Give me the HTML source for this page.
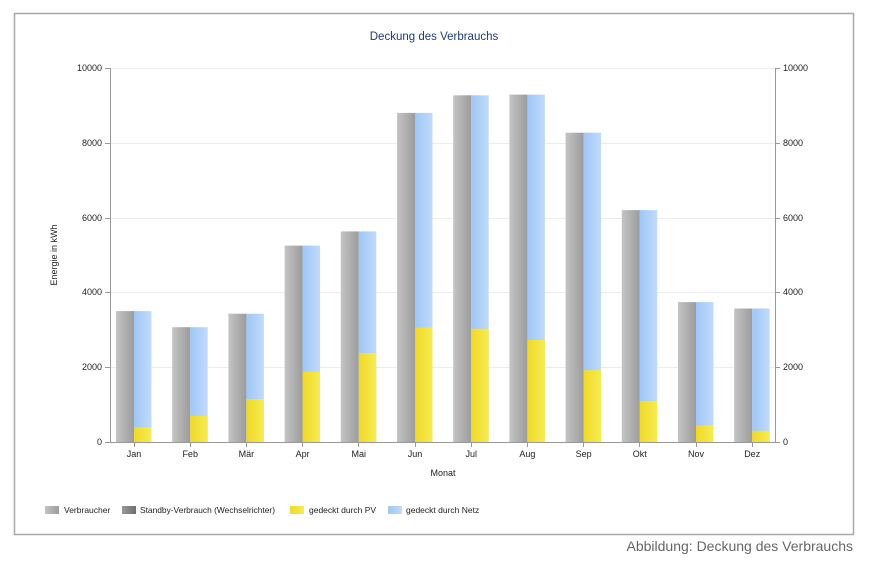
<!DOCTYPE html>
<html><head><meta charset="utf-8"><style>
body{margin:0;background:#fff;}
svg{display:block;font-family:"Liberation Sans",sans-serif;}
</style></head><body>
<svg width="872" height="576" viewBox="0 0 872 576">
<defs>
<linearGradient id="g" x1="0" x2="1"><stop offset="0" stop-color="#c4c4c4"/><stop offset="1" stop-color="#9c9c9c"/></linearGradient>
<linearGradient id="g2" x1="0" x2="1"><stop offset="0" stop-color="#999"/><stop offset="1" stop-color="#6e6e6e"/></linearGradient>
<linearGradient id="b" x1="0" x2="1"><stop offset="0" stop-color="#9fc6f6"/><stop offset="1" stop-color="#c1dbfb"/></linearGradient>
<linearGradient id="y" x1="0" x2="1"><stop offset="0" stop-color="#efd82a"/><stop offset="1" stop-color="#f7ec50"/></linearGradient>
</defs>
<rect x="14.5" y="13.5" width="839" height="521" fill="#fff" stroke="#a8a8a8" stroke-width="1.5"/>
<text x="434" y="40" text-anchor="middle" font-size="11.5" fill="#1f3a7a">Deckung des Verbrauchs</text>
<g stroke="#ececec" stroke-width="1">
<line x1="110" x2="775" y1="68.5" y2="68.5"/><line x1="110" x2="775" y1="143.5" y2="143.5"/>
<line x1="110" x2="775" y1="218.5" y2="218.5"/><line x1="110" x2="775" y1="292.5" y2="292.5"/>
<line x1="110" x2="775" y1="367.5" y2="367.5"/>
</g>
<g stroke="#999" stroke-width="1">
<line x1="110.5" x2="110.5" y1="68" y2="442"/><line x1="775.5" x2="775.5" y1="68" y2="442"/>
<line x1="110" x2="775" y1="442.5" y2="442.5"/>
<line x1="105" x2="110" y1="68.5" y2="68.5"/><line x1="105" x2="110" y1="143.5" y2="143.5"/><line x1="105" x2="110" y1="218.5" y2="218.5"/><line x1="105" x2="110" y1="292.5" y2="292.5"/><line x1="105" x2="110" y1="367.5" y2="367.5"/><line x1="105" x2="110" y1="442.5" y2="442.5"/>
<line x1="775" x2="780" y1="68.5" y2="68.5"/><line x1="775" x2="780" y1="143.5" y2="143.5"/><line x1="775" x2="780" y1="218.5" y2="218.5"/><line x1="775" x2="780" y1="292.5" y2="292.5"/><line x1="775" x2="780" y1="367.5" y2="367.5"/><line x1="775" x2="780" y1="442.5" y2="442.5"/>
</g>
<g font-size="9" fill="#222" text-anchor="end">
<text x="102" y="71">10000</text><text x="102" y="146">8000</text><text x="102" y="221">6000</text><text x="102" y="295">4000</text><text x="102" y="370">2000</text><text x="102" y="445">0</text>
</g>
<g font-size="9" fill="#222">
<text x="783" y="71">10000</text><text x="783" y="146">8000</text><text x="783" y="221">6000</text><text x="783" y="295">4000</text><text x="783" y="370">2000</text><text x="783" y="445">0</text>
</g>
<text transform="translate(57,255) rotate(-90)" text-anchor="middle" font-size="9" fill="#222">Energie in kWh</text>
<text x="443" y="476" text-anchor="middle" font-size="9" fill="#222">Monat</text>

<g>
<rect x="116" y="311.1" width="18" height="130.9" fill="url(#g)"/><rect x="134" y="311.1" width="17.5" height="130.9" fill="url(#b)"/><rect x="134" y="427" width="17.5" height="15" fill="url(#y)"/>
<rect x="172.2" y="327.2" width="18" height="114.8" fill="url(#g)"/><rect x="190.2" y="327.2" width="17.5" height="114.8" fill="url(#b)"/><rect x="190.2" y="415.8" width="17.5" height="26.2" fill="url(#y)"/>
<rect x="228.4" y="313.7" width="18" height="128.3" fill="url(#g)"/><rect x="246.4" y="313.7" width="17.5" height="128.3" fill="url(#b)"/><rect x="246.4" y="399" width="17.5" height="43" fill="url(#y)"/>
<rect x="284.6" y="245.6" width="18" height="196.4" fill="url(#g)"/><rect x="302.6" y="245.6" width="17.5" height="196.4" fill="url(#b)"/><rect x="302.6" y="371.7" width="17.5" height="70.3" fill="url(#y)"/>
<rect x="340.8" y="231.4" width="18" height="210.6" fill="url(#g)"/><rect x="358.8" y="231.4" width="17.5" height="210.6" fill="url(#b)"/><rect x="358.8" y="353" width="17.5" height="89" fill="url(#y)"/>
<rect x="397" y="112.9" width="18" height="329.1" fill="url(#g)"/><rect x="415" y="112.9" width="17.5" height="329.1" fill="url(#b)"/><rect x="415" y="327.6" width="17.5" height="114.4" fill="url(#y)"/>
<rect x="453.2" y="95.3" width="18" height="346.7" fill="url(#g)"/><rect x="471.2" y="95.3" width="17.5" height="346.7" fill="url(#b)"/><rect x="471.2" y="328.7" width="17.5" height="113.3" fill="url(#y)"/>
<rect x="509.4" y="94.6" width="18" height="347.4" fill="url(#g)"/><rect x="527.4" y="94.6" width="17.5" height="347.4" fill="url(#b)"/><rect x="527.4" y="339.9" width="17.5" height="102.1" fill="url(#y)"/>
<rect x="565.6" y="132.7" width="18" height="309.3" fill="url(#g)"/><rect x="583.6" y="132.7" width="17.5" height="309.3" fill="url(#b)"/><rect x="583.6" y="370.2" width="17.5" height="71.8" fill="url(#y)"/>
<rect x="621.8" y="210.1" width="18" height="231.9" fill="url(#g)"/><rect x="639.8" y="210.1" width="17.5" height="231.9" fill="url(#b)"/><rect x="639.8" y="400.9" width="17.5" height="41.1" fill="url(#y)"/>
<rect x="678" y="302.1" width="18" height="139.9" fill="url(#g)"/><rect x="696" y="302.1" width="17.5" height="139.9" fill="url(#b)"/><rect x="696" y="425.5" width="17.5" height="16.5" fill="url(#y)"/>
<rect x="734.2" y="308.5" width="18" height="133.5" fill="url(#g)"/><rect x="752.2" y="308.5" width="17.5" height="133.5" fill="url(#b)"/><rect x="752.2" y="430.8" width="17.5" height="11.2" fill="url(#y)"/>
</g>
<g stroke="#999">
<line x1="134.5" x2="134.5" y1="442" y2="447"/><line x1="190.5" x2="190.5" y1="442" y2="447"/><line x1="246.5" x2="246.5" y1="442" y2="447"/><line x1="302.5" x2="302.5" y1="442" y2="447"/><line x1="358.5" x2="358.5" y1="442" y2="447"/><line x1="415.5" x2="415.5" y1="442" y2="447"/><line x1="471.5" x2="471.5" y1="442" y2="447"/><line x1="527.5" x2="527.5" y1="442" y2="447"/><line x1="583.5" x2="583.5" y1="442" y2="447"/><line x1="639.5" x2="639.5" y1="442" y2="447"/><line x1="696.5" x2="696.5" y1="442" y2="447"/><line x1="752.5" x2="752.5" y1="442" y2="447"/>
</g>
<g font-size="9" fill="#222" text-anchor="middle">
<text x="134" y="457">Jan</text><text x="190.2" y="457">Feb</text><text x="246.4" y="457">Mär</text><text x="302.6" y="457">Apr</text><text x="358.8" y="457">Mai</text><text x="415" y="457">Jun</text><text x="471.2" y="457">Jul</text><text x="527.4" y="457">Aug</text><text x="583.6" y="457">Sep</text><text x="639.8" y="457">Okt</text><text x="696" y="457">Nov</text><text x="752.2" y="457">Dez</text>
</g>
<g font-size="8.5" fill="#222">
<rect x="45" y="506" width="14" height="8" fill="url(#g)"/><text x="64" y="513">Verbraucher</text>
<rect x="122" y="506" width="14" height="8" fill="url(#g2)"/><text x="140" y="513" textLength="135" lengthAdjust="spacingAndGlyphs">Standby-Verbrauch (Wechselrichter)</text>
<rect x="290" y="506" width="14" height="8" fill="url(#y)"/><text x="309" y="513">gedeckt durch PV</text>
<rect x="388" y="506" width="14" height="8" fill="url(#b)"/><text x="406" y="513">gedeckt durch Netz</text>
</g>
<text x="853" y="551" text-anchor="end" font-size="14" fill="#666">Abbildung: Deckung des Verbrauchs</text>
</svg>
</body></html>
